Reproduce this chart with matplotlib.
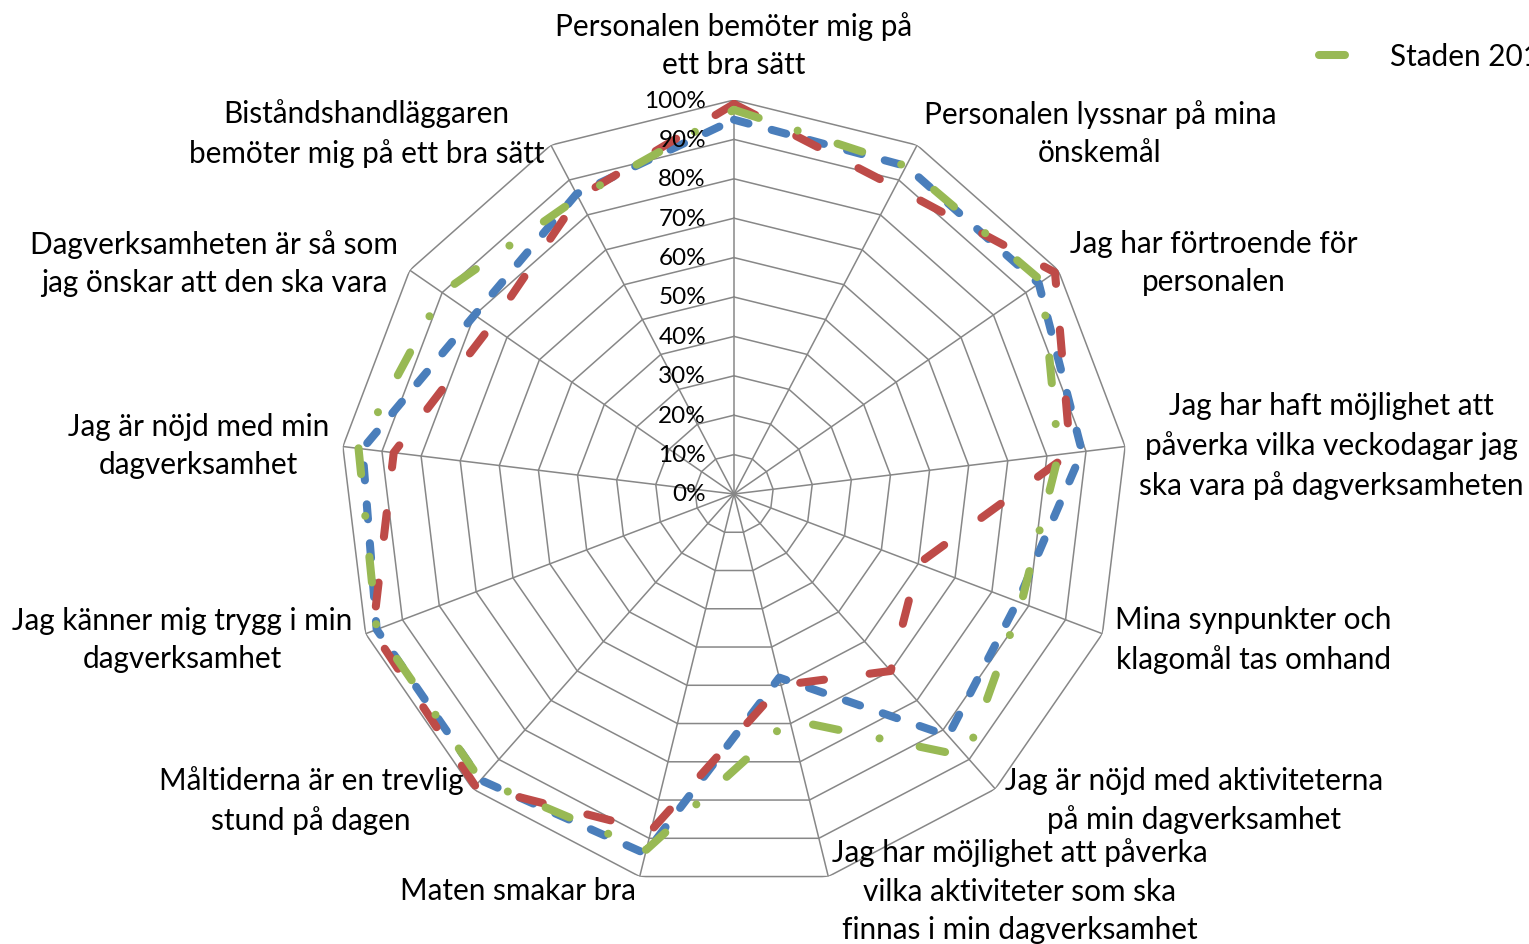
import numpy as np
import matplotlib
matplotlib.use("Agg")
import matplotlib.pyplot as plt

plt.rcParams['font.family'] = ['Lato', 'DejaVu Sans']
plt.rcParams['lines.scale_dashes'] = False

categories = [
    "Personalen bemöter mig på\nett bra sätt",
    "Personalen lyssnar på mina\nönskemål",
    "Jag har förtroende för\npersonalen",
    "Jag har haft möjlighet att\npåverka vilka veckodagar jag\nska vara på dagverksamheten",
    "Mina synpunkter och\nklagomål tas omhand",
    "Jag är nöjd med aktiviteterna\npå min dagverksamhet",
    "Jag har möjlighet att påverka\nvilka aktiviteter som ska\nfinnas i min dagverksamhet",
    "Maten smakar bra",
    "Måltiderna är en trevlig\nstund på dagen",
    "Jag känner mig trygg i min\ndagverksamhet",
    "Jag är nöjd med min\ndagverksamhet",
    "Dagverksamheten är så som\njag önskar att den ska vara",
    "Biståndshandläggaren\nbemöter mig på ett bra sätt",
]

series_names = ["Enheten", "Verksamheten", "Staden 2013"]
blue_values = [95, 94, 94, 89, 77, 82, 48, 94, 97, 97, 95, 80, 86]
red_values = [99, 88, 99, 86, 50, 60, 50, 88, 99, 98, 87, 75, 85]
green_values = [97.5, 94, 95, 83, 78, 89, 59, 93, 97, 97, 96, 90, 85]

ring_levels = [0, 10, 20, 30, 40, 50, 60, 70, 80, 90, 100]
tick_labels = ["0%", "10%", "20%", "30%", "40%", "50%", "60%", "70%", "80%", "90%", "100%"]

BLUE = "#4A7EBB"
RED = "#BE4B48"
GREEN = "#98B954"
GRID = "#878787"
FS = 21.4
FS_TICK = 17.5

fig = plt.figure(figsize=(15.29, 9.45), dpi=100)
W, H = 1529, 945
cx, cy, R = 734, 495, 394
ax = fig.add_axes([(cx - R) / W, (H - cy - R) / H, 2 * R / W, 2 * R / H], projection='polar')
ax.set_theta_zero_location('N')
ax.set_theta_direction(-1)
ax.set_ylim(0, 100)
ax.grid(False)
ax.set_xticks([])
ax.set_yticks([])
ax.spines['polar'].set_visible(False)
ax.patch.set_visible(False)

n = len(categories)
theta = 2 * np.pi * np.arange(n) / n
theta_c = np.append(theta, theta[0])

# polygon grid
for lvl in ring_levels[1:]:
    ax.plot(theta_c, [lvl] * (n + 1), color=GRID, lw=1.1, zorder=1)
for t in theta:
    ax.plot([t, t], [0, 100], color=GRID, lw=1.1, zorder=1)

def closed(v):
    return np.append(v, v[0])

common = dict(lw=5.8, dash_capstyle='round', solid_capstyle='round',
              solid_joinstyle='round', dash_joinstyle='round', zorder=3)
ax.plot(theta_c, closed(blue_values), color=BLUE, dashes=(10.8, 17.3), label=series_names[0], **common)
ax.plot(theta_c, closed(red_values), color=RED, dashes=(17.3, 33.1), label=series_names[1], **common)
g, = ax.plot(theta_c, closed(green_values), color=GREEN, dashes=(18.7, 29.5, 0.01, 30.2),
             label=series_names[2], **common)

# radial tick labels
for lvl, lab in zip(ring_levels, tick_labels):
    ax.annotate(lab, xy=(0, lvl), xytext=(-28, 0), textcoords='offset pixels',
                ha='right', va='center', fontsize=FS_TICK, color='black', zorder=4)

# category labels
for i, (t, lab) in enumerate(zip(theta, categories)):
    s, c = np.sin(t), np.cos(t)
    if abs(s) < 0.05:
        ha = 'center'
        va = 'bottom' if c > 0 else 'top'
        off = (0, 22 if c > 0 else -14)
    else:
        ha = 'left' if s > 0 else 'right'
        va = 'center'
        off = (14 * s, 14 * c)
    ax.annotate(lab, xy=(t, 100), xytext=off, textcoords='offset pixels',
                ha=ha, va=va, multialignment='center', fontsize=FS,
                annotation_clip=False, linespacing=1.45)

fig.legend(handles=[g], labels=[series_names[2]], loc='center left',
           bbox_to_anchor=(1307 / W, 1 - 57 / H), frameon=False, fontsize=FS,
           handlelength=1.5, handletextpad=0.9, borderaxespad=0)

fig.savefig("out.png", dpi=100)
